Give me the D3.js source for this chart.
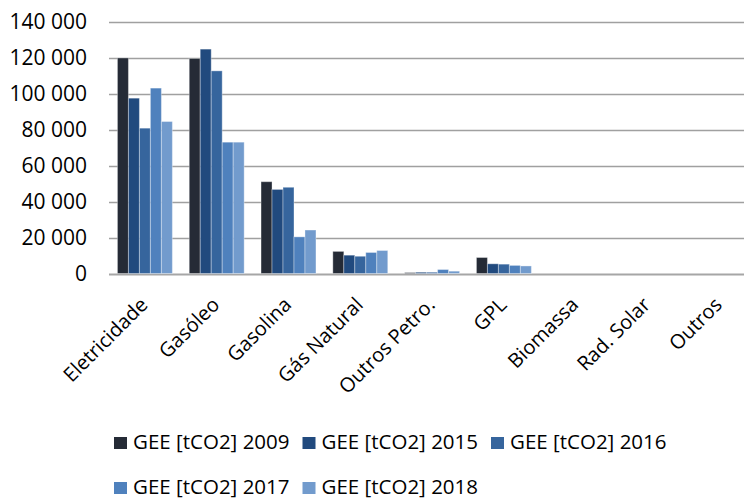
<!DOCTYPE html>
<html>
<head>
<meta charset="utf-8">
<script src="https://cdn.jsdelivr.net/npm/d3@7"></script>
<style>
  html, body { margin: 0; padding: 0; background: #ffffff; }
  svg { display: block; }
  text { font-family: "Open Sans", "DejaVu Sans", sans-serif; fill: #000; }
</style>
</head>
<body>
<svg id="chart" width="744" height="499"></svg>
<script>
// Energy sources on the x axis
const categories = ["Eletricidade", "Gasóleo", "Gasolina", "Gás Natural", "Outros Petro.",
                    "GPL", "Biomassa", "Rad. Solar", "Outros"];

// Series names (one bar per year inside each category)
const seriesNames = ["GEE [tCO2] 2009", "GEE [tCO2] 2015", "GEE [tCO2] 2016",
                     "GEE [tCO2] 2017", "GEE [tCO2] 2018"];

// Emissions per category, tCO2
const gee2009 = [120000, 119700, 51100, 12300, 500, 8900, 0, 0, 0];
const gee2015 = [97600, 124900, 46800, 10200, 700, 5400, 0, 0, 0];
const gee2016 = [80900, 112800, 48000, 9600, 700, 5200, 0, 0, 0];
const gee2017 = [103200, 73100, 20400, 11700, 2200, 4500, 0, 0, 0];
const gee2018 = [84600, 73100, 24200, 12800, 1300, 4200, 0, 0, 0];

const yTicks = [0, 20000, 40000, 60000, 80000, 100000, 120000, 140000];

const seriesValues = [gee2009, gee2015, gee2016, gee2017, gee2018];
const colors = ["#252b36", "#214a7e", "#36659d", "#4f81bd", "#729bcd"];

const svg = d3.select("#chart");

const plotLeft = 109, plotTop = 22, plotBottom = 273.5;
const step = 71.8;

const x = d3.scaleBand()
  .domain(categories)
  .range([plotLeft, plotLeft + step * categories.length])
  .paddingInner(0.235)
  .paddingOuter(0.1175);

const xInner = d3.scaleBand()
  .domain(seriesNames)
  .range([0, x.bandwidth()]);

const y = d3.scaleLinear()
  .domain([0, 140000])
  .range([plotBottom, plotTop]);

// Horizontal gridlines
svg.append("g")
  .selectAll("line")
  .data(yTicks)
  .join("line")
  .attr("x1", plotLeft)
  .attr("x2", 744)
  .attr("y1", d => Math.round(y(d)) + 0.5)
  .attr("y2", d => Math.round(y(d)) + 0.5)
  .attr("stroke", d => d === 0 ? "#a6a6a6" : "#a0a0a0")
  .attr("stroke-width", d => d === 0 ? 2 : 1.3);

// Y axis tick labels with a space as thousands separator
const fmt = d => d === 0 ? "0" : d3.format(",")(d).replace(/,/g, " ");
svg.append("g")
  .selectAll("text")
  .data(yTicks)
  .join("text")
  .attr("x", 87)
  .attr("y", d => y(d))
  .attr("dy", "0.35em")
  .attr("text-anchor", "end")
  .style("font-size", "21px")
  .text(fmt);

// Grouped bars
const groups = svg.append("g")
  .selectAll("g")
  .data(categories)
  .join("g")
  .attr("transform", d => `translate(${x(d)},0)`);

groups.selectAll("rect")
  .data((c, i) => seriesNames.map((s, k) => ({ series: s, k, value: seriesValues[k][i] })))
  .join("rect")
  .attr("x", d => xInner(d.series))
  .attr("width", xInner.bandwidth())
  .attr("y", d => y(d.value))
  .attr("height", d => y(0) - y(d.value))
  .attr("fill", d => colors[d.k])
  .attr("stroke", "#ffffff")
  .attr("stroke-opacity", 0.35)
  .attr("stroke-width", 1);

// Rotated category labels
svg.append("g")
  .selectAll("text")
  .data(categories)
  .join("text")
  .attr("transform", d => `translate(${x(d) + x.bandwidth() / 2 + 4},${306}) rotate(-45)`)
  .attr("text-anchor", "end")
  .style("font-size", "20px")
  .text(d => d);

// Legend, three items per row
const legend = svg.append("g")
  .selectAll("g")
  .data(seriesNames)
  .join("g")
  .attr("transform", (d, i) => `translate(${114 + (i % 3) * 188.5},${437 + Math.floor(i / 3) * 45})`);

legend.append("rect")
  .attr("width", 13)
  .attr("height", 12)
  .attr("fill", (d, i) => colors[i]);

legend.append("text")
  .attr("x", 19)
  .attr("y", 11.5)
  .style("font-size", "20.5px")
  .text(d => d);
</script>
</body>
</html>
